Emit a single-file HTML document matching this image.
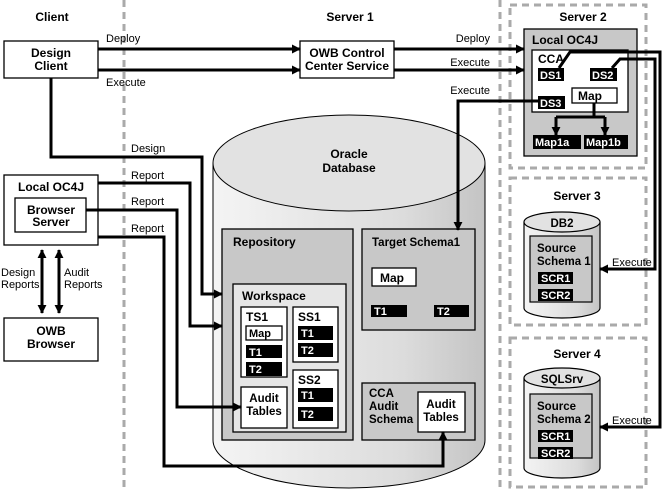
<!DOCTYPE html>
<html><head><style>body{margin:0;background:#fff}svg{display:block;font-family:"Liberation Sans",Arial,sans-serif}</style></head><body>
<svg width="662" height="491" viewBox="0 0 662 491" xmlns="http://www.w3.org/2000/svg">
<defs>
<marker id="a" viewBox="0 0 10 10" refX="9" refY="5" markerWidth="3" markerHeight="3" orient="auto"><path d="M0,0L10,5L0,10z" fill="#000"/></marker>
<linearGradient id="g" x1="0" x2="1"><stop offset="0" stop-color="#f4f4f4"/><stop offset="0.7" stop-color="#dcdcdc"/><stop offset="1" stop-color="#c4c4c4"/></linearGradient>
</defs>
<g stroke="#aaa" stroke-width="3" stroke-dasharray="7,5" fill="none">
<line x1="124" y1="0" x2="124" y2="491"/>
<line x1="500" y1="0" x2="500" y2="491"/>
<rect x="510" y="5" width="136" height="163"/>
<rect x="510" y="178" width="136" height="147"/>
<rect x="510" y="338" width="136" height="149"/>
</g>
<g font-weight="bold" font-size="12" text-anchor="middle">
<text x="52" y="21">Client</text><text x="350" y="21">Server 1</text><text x="583" y="21">Server 2</text>
<text x="577" y="200">Server 3</text><text x="577" y="358">Server 4</text>
</g>
<path d="M213,163 L213,440 A136,48 0 0 0 485,440 L485,163" fill="url(#g)" stroke="#000" stroke-width="1"/>
<ellipse cx="349" cy="163" rx="136" ry="48" fill="#e2e2e2" stroke="#000"/>
<text x="349" y="158" font-weight="bold" font-size="12" text-anchor="middle">Oracle</text>
<text x="349" y="172" font-weight="bold" font-size="12" text-anchor="middle">Database</text>
<g stroke="#000" stroke-width="1.3">
<rect x="222" y="229" width="131" height="211" fill="#c8c8c8"/>
<rect x="362" y="229" width="113" height="101" fill="#c8c8c8"/>
<rect x="362" y="383" width="113" height="57" fill="#c8c8c8"/>
<rect x="233" y="284" width="113" height="148" fill="#e6e6e6"/>
<rect x="241" y="307" width="46" height="70" fill="#fff"/>
<rect x="293" y="307" width="45" height="55" fill="#fff"/>
<rect x="293" y="370" width="45" height="58" fill="#fff"/>
<rect x="241" y="387" width="46" height="41" fill="#fff"/>
<rect x="246" y="326" width="36" height="14" fill="#fff"/>
<rect x="372" y="268" width="44" height="18" fill="#fff"/>
<rect x="418" y="392" width="47" height="40" fill="#fff"/>
</g>
<g fill="#000">
<rect x="246" y="345" width="36" height="13"/><rect x="246" y="362" width="36" height="14"/>
<rect x="298" y="326" width="35" height="14"/><rect x="298" y="343" width="35" height="14"/>
<rect x="298" y="388" width="35" height="14"/><rect x="298" y="407" width="35" height="14"/>
<rect x="371" y="305" width="36" height="12"/><rect x="434" y="305" width="35" height="12"/>
</g>
<g font-weight="bold" font-size="12">
<text x="233" y="246">Repository</text><text x="372" y="246" font-size="11.5">Target Schema1</text>
<text x="242" y="300">Workspace</text><text x="246" y="321">TS1</text><text x="298" y="321">SS1</text><text x="298" y="384">SS2</text>
<text x="249" y="337" font-size="11">Map</text><text x="380" y="282">Map</text>
<text x="369" y="397" font-size="11.5">CCA</text><text x="369" y="410" font-size="11.5">Audit</text><text x="369" y="423" font-size="11.5">Schema</text>
<text x="441" y="408" text-anchor="middle" font-size="11.5">Audit</text><text x="441" y="421" text-anchor="middle" font-size="11.5">Tables</text>
<text x="264" y="402" text-anchor="middle" font-size="11.5">Audit</text><text x="264" y="415" text-anchor="middle" font-size="11.5">Tables</text>
</g>
<g font-weight="bold" font-size="11" fill="#fff">
<text x="249" y="356">T1</text><text x="249" y="373">T2</text>
<text x="301" y="337">T1</text><text x="301" y="354">T2</text>
<text x="301" y="399">T1</text><text x="301" y="418">T2</text>
<text x="374" y="315">T1</text><text x="437" y="315">T2</text>
</g>
<g stroke="#000" stroke-width="1.3" fill="#fff">
<rect x="4" y="41" width="94" height="37"/>
<rect x="300" y="41" width="94" height="37"/>
<rect x="4" y="175" width="94" height="70"/>
<rect x="15" y="198" width="71" height="34"/>
<rect x="4" y="318" width="94" height="43"/>
</g>
<g font-weight="bold" font-size="12" text-anchor="middle">
<text x="51" y="57">Design</text><text x="51" y="70">Client</text>
<text x="347" y="57">OWB Control</text><text x="347" y="70">Center Service</text>
<text x="51" y="191">Local OC4J</text>
<text x="51" y="214">Browser</text><text x="51" y="226">Server</text>
<text x="51" y="335">OWB</text><text x="51" y="348">Browser</text>
</g>
<rect x="524" y="29" width="113" height="127" fill="#c8c8c8" stroke="#000" stroke-width="1.3"/>
<rect x="532" y="50" width="96" height="62" fill="#fff" stroke="#000" stroke-width="1.3"/>
<rect x="572" y="88" width="45" height="15" fill="#fff" stroke="#000" stroke-width="1.3"/>
<g fill="#000"><rect x="538" y="68" width="26" height="13"/><rect x="590" y="68" width="27" height="13"/><rect x="538" y="96" width="27" height="13"/>
<rect x="533" y="135" width="48" height="14"/><rect x="584" y="135" width="44" height="14"/></g>
<g font-weight="bold" font-size="12"><text x="532" y="44">Local OC4J</text><text x="538" y="63">CCA</text><text x="578" y="100">Map</text></g>
<g font-weight="bold" font-size="11" fill="#fff"><text x="540" y="79">DS1</text><text x="592" y="79">DS2</text><text x="540" y="107">DS3</text><text x="535" y="146">Map1a</text><text x="586" y="146">Map1b</text></g>
<g stroke="#000" stroke-width="1.2">
<path d="M524,222 L524,308 A38,10 0 0 0 600,308 L600,222" fill="url(#g)"/><ellipse cx="562" cy="222" rx="38" ry="10" fill="#e2e2e2"/>
<path d="M524,378 L524,468 A38,10 0 0 0 600,468 L600,378" fill="url(#g)"/><ellipse cx="562" cy="378" rx="38" ry="10" fill="#e2e2e2"/>
<rect x="530" y="236" width="62" height="66" fill="#c8c8c8"/>
<rect x="530" y="394" width="62" height="64" fill="#c8c8c8"/>
</g>
<g fill="#000"><rect x="538" y="272" width="35" height="12"/><rect x="538" y="289" width="35" height="12"/><rect x="538" y="430" width="35" height="12"/><rect x="538" y="447" width="35" height="12"/></g>
<g font-weight="bold" font-size="11.5"><text x="562" y="227" text-anchor="middle">DB2</text><text x="562" y="383" text-anchor="middle">SQLSrv</text>
<text x="537" y="252">Source</text><text x="537" y="265">Schema 1</text><text x="537" y="410">Source</text><text x="537" y="423">Schema 2</text></g>
<g font-weight="bold" font-size="11" fill="#fff"><text x="541" y="282">SCR1</text><text x="541" y="299">SCR2</text><text x="541" y="440">SCR1</text><text x="541" y="457">SCR2</text></g>
<g stroke="#000" stroke-width="3" fill="none" marker-end="url(#a)">
<path d="M98,49H300"/><path d="M98,70H300"/>
<path d="M394,49H524"/><path d="M394,70H524"/>
<path d="M538,101H458V230"/>
<path d="M556,117V135"/><path d="M605,117V135"/>
<path d="M51,78V157H202V294H222"/>
<path d="M98,183H190V326H222"/>
<path d="M86,210H177V407H241"/>
<path d="M98,237H164V466H443V432"/>
<path d="M559,68L570,52H660V427H600"/>
<path d="M612,68L620,59H655V269H600"/>
<path d="M42,260V313"/><path d="M42,300V250"/>
<path d="M59,260V313"/><path d="M59,300V250"/>
</g>
<path d="M594,103V117M556,117H605" stroke="#000" stroke-width="3" fill="none"/>
<g font-size="11">
<text x="106" y="42">Deploy</text><text x="106" y="86">Execute</text>
<text x="490" y="42" text-anchor="end">Deploy</text><text x="490" y="66" text-anchor="end">Execute</text><text x="490" y="94" text-anchor="end">Execute</text>
<text x="131" y="152">Design</text><text x="131" y="179">Report</text><text x="131" y="205">Report</text><text x="131" y="232">Report</text>
<text x="1" y="276">Design</text><text x="1" y="288">Reports</text><text x="64" y="276">Audit</text><text x="64" y="288">Reports</text>
<text x="612" y="266">Execute</text><text x="612" y="424">Execute</text>
</g>
</svg>
</body></html>
